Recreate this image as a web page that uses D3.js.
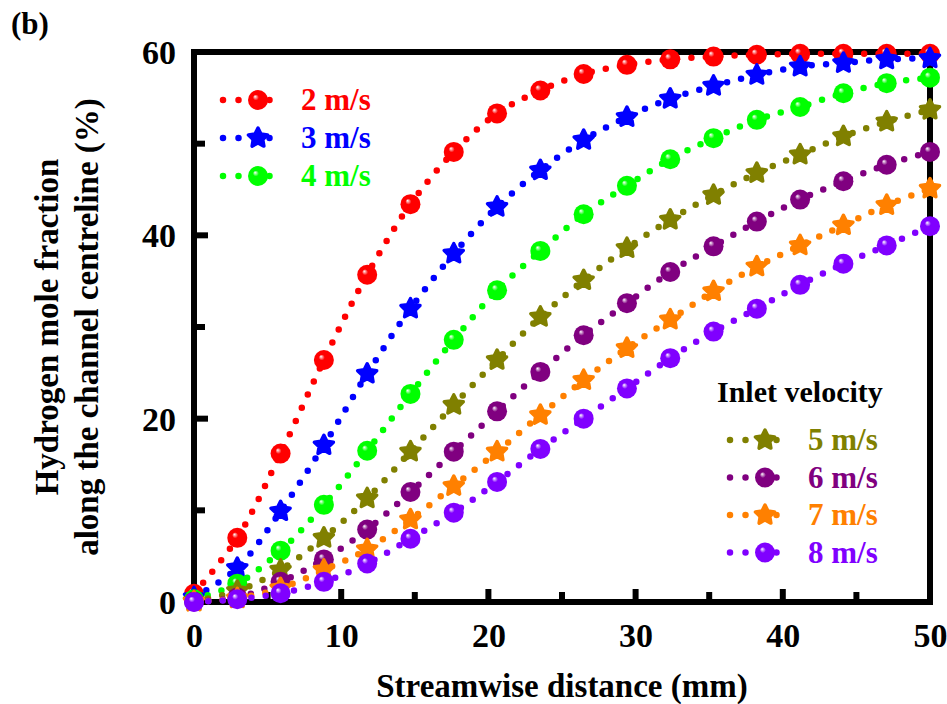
<!DOCTYPE html>
<html>
<head>
<meta charset="utf-8">
<script src="https://cdn.jsdelivr.net/npm/d3@7"></script>
<style>
  body { margin: 0; background: #fff; }
  svg { display: block; font-family: "Liberation Serif", "Times New Roman", serif; font-weight: bold; }
</style>
</head>
<body>
<svg id="chart"></svg>
<script>
// streamwise positions (mm), 18 sample points
const distance = d3.range(18).map(i => i * 50 / 17);

const v2 = [0.9, 7.0, 16.2, 26.4, 35.7, 43.4, 49.1, 53.3, 55.8, 57.6, 58.6, 59.2, 59.5, 59.7, 59.8, 59.8, 59.8, 59.8];
const v3 = [0.5, 3.7, 9.9, 17.1, 24.9, 32.0, 38.0, 43.1, 47.1, 50.4, 52.9, 54.9, 56.3, 57.5, 58.4, 58.8, 59.2, 59.3];
const v4 = [0.3, 2.0, 5.6, 10.6, 16.5, 22.7, 28.6, 34.0, 38.3, 42.3, 45.4, 48.3, 50.6, 52.6, 54.0, 55.5, 56.6, 57.2];
const v5 = [0.1, 1.2, 3.5, 7.0, 11.3, 16.4, 21.5, 26.4, 31.1, 35.1, 38.6, 41.7, 44.4, 46.8, 48.8, 50.8, 52.4, 53.7];
const v6 = [0.05, 0.5, 2.2, 4.65, 7.9, 12.0, 16.4, 20.8, 25.1, 29.1, 32.6, 36.0, 38.8, 41.5, 43.9, 45.9, 47.7, 49.1];
const v7 = [0.03, 0.4, 1.5, 3.5, 5.75, 9.0, 12.65, 16.4, 20.4, 24.2, 27.7, 30.8, 33.9, 36.6, 38.9, 41.1, 43.3, 45.1];
const v8 = [0, 0.3, 0.95, 2.2, 4.2, 6.9, 9.75, 13.1, 16.7, 20.0, 23.3, 26.6, 29.5, 32.0, 34.6, 36.9, 38.9, 41.0];

const seriesNames = ["2 m/s", "3 m/s", "4 m/s", "5 m/s", "6 m/s", "7 m/s", "8 m/s"];
const seriesValues = [v2, v3, v4, v5, v6, v7, v8];
const seriesColors = ["#ff0000", "#0000ff", "#00ff00", "#808000", "#800080", "#ff8000", "#8000ff"];
const seriesShapes = ["sphere", "star", "sphere", "star", "sphere", "star", "sphere"];

const xTicks = [0, 10, 20, 30, 40, 50];
const yTicks = [0, 20, 40, 60];

const width = 947, height = 704;
const margin = {left: 194, right: 17, top: 52, bottom: 102};

const svg = d3.select("#chart")
  .attr("width", width)
  .attr("height", height);

const x = d3.scaleLinear().domain([0, 50]).range([margin.left, width - margin.right]);
const y = d3.scaleLinear().domain([0, 60]).range([height - margin.bottom, margin.top]);

// gradients for the shiny balls
const defs = svg.append("defs");
seriesColors.forEach((c, i) => {
  const g = defs.append("radialGradient")
    .attr("id", "ball" + i)
    .attr("cx", "0.5").attr("cy", "0.5").attr("r", "0.5")
    .attr("fx", "0.35").attr("fy", "0.32");
  g.append("stop").attr("offset", "0%").attr("stop-color", "#ffffff");
  g.append("stop").attr("offset", "30%").attr("stop-color", c);
  g.append("stop").attr("offset", "100%").attr("stop-color", c);
});

// fat rounded star
function starPath(r) {
  const inner = r * 0.5;
  let p = [];
  for (let k = 0; k < 10; k++) {
    const rr = k % 2 === 0 ? r : inner;
    const a = -Math.PI / 2 + k * Math.PI / 5;
    p.push([rr * Math.cos(a), rr * Math.sin(a)]);
  }
  return "M" + p.map(q => q[0].toFixed(2) + "," + q[1].toFixed(2)).join("L") + "Z";
}

function drawMarker(sel, i) {
  if (seriesShapes[i] === "sphere") {
    sel.append("circle")
      .attr("r", 10)
      .attr("fill", "url(#ball" + i + ")");
  } else {
    sel.append("path")
      .attr("d", starPath(10))
      .attr("fill", seriesColors[i])
      .attr("stroke", seriesColors[i])
      .attr("stroke-width", 3.5)
      .attr("stroke-linejoin", "round");
  }
}

// frame
svg.append("rect")
  .attr("x", x(0)).attr("y", y(60))
  .attr("width", x(50) - x(0)).attr("height", y(0) - y(60))
  .attr("fill", "none")
  .attr("stroke", "#000")
  .attr("stroke-width", 6);

// ticks (inward)
const xAxis = d3.axisBottom(x).tickValues(xTicks).tickSize(0).tickFormat(d3.format("d"));
const gx = svg.append("g")
  .attr("transform", `translate(0,${y(0)})`)
  .call(xAxis);
gx.select(".domain").remove();
gx.selectAll("text")
  .attr("dy", null)
  .attr("y", 45)
  .attr("font-size", 34)
  .attr("font-family", "Liberation Serif")
  .attr("font-weight", "bold")
  .attr("fill", "#000");

svg.append("g").selectAll("line")
  .data(d3.range(5, 50, 5))
  .join("line")
  .attr("x1", d => x(d)).attr("x2", d => x(d))
  .attr("y1", y(0))
  .attr("y2", d => y(0) - (d % 10 === 0 ? 13 : 10))
  .attr("stroke", "#000").attr("stroke-width", 6);

const yAxis = d3.axisLeft(y).tickValues(yTicks).tickSize(0).tickFormat(d3.format("d"));
const gy = svg.append("g")
  .attr("transform", `translate(${x(0)},0)`)
  .call(yAxis);
gy.select(".domain").remove();
gy.selectAll("text")
  .attr("x", -18)
  .attr("dy", "0.34em")
  .attr("font-size", 34)
  .attr("font-family", "Liberation Serif")
  .attr("font-weight", "bold")
  .attr("fill", "#000");

svg.append("g").selectAll("line")
  .data(d3.range(10, 60, 10))
  .join("line")
  .attr("y1", d => y(d)).attr("y2", d => y(d))
  .attr("x1", x(0))
  .attr("x2", d => x(0) + (d % 20 === 0 ? 14 : 11))
  .attr("stroke", "#000").attr("stroke-width", 6);

// axis titles
svg.append("text")
  .attr("x", (x(0) + x(50)) / 2)
  .attr("y", 697)
  .attr("text-anchor", "middle")
  .attr("font-size", 33)
  .text("Streamwise distance (mm)");

const yt = svg.append("text")
  .attr("transform", `translate(0,${(y(0) + y(60)) / 2}) rotate(-90)`)
  .attr("text-anchor", "middle")
  .attr("font-size", 33);
yt.append("tspan").attr("x", 0).attr("y", 58).text("Hydrogen mole fraction");
yt.append("tspan").attr("x", 0).attr("y", 98).text("along the channel centreline (%)");

svg.append("text")
  .attr("x", 11).attr("y", 34)
  .attr("font-size", 31)
  .text("(b)");

// data series
const line = d3.line()
  .x(d => x(d[0]))
  .y(d => y(d[1]))
  .curve(d3.curveCatmullRom);

seriesValues.forEach((vals, i) => {
  const pts = distance.map((d, k) => [d, vals[k]]);
  const g = svg.append("g");
  g.append("path")
    .attr("d", line(pts))
    .attr("fill", "none")
    .attr("stroke", seriesColors[i])
    .attr("stroke-width", 6.5)
    .attr("stroke-linecap", "round")
    .attr("stroke-dasharray", "0 14.4");
  g.selectAll("g.mk")
    .data(pts)
    .join("g")
    .attr("class", "mk")
    .attr("transform", d => `translate(${x(d[0])},${y(d[1])})`)
    .each(function() { drawMarker(d3.select(this), i); });
});

// legends
function legendItem(i, lx, ly) {
  const g = svg.append("g").attr("transform", `translate(${lx},${ly})`);
  g.append("line")
    .attr("x1", 0).attr("x2", 62)
    .attr("stroke", seriesColors[i])
    .attr("stroke-width", 6.5)
    .attr("stroke-linecap", "round")
    .attr("stroke-dasharray", "0 15.5");
  const m = g.append("g").attr("transform", "translate(35,0)");
  drawMarker(m, i);
  g.append("text")
    .attr("x", 78).attr("y", 10)
    .attr("font-size", 31)
    .attr("fill", seriesColors[i])
    .text(seriesNames[i]);
}

[0, 1, 2].forEach((i, k) => legendItem(i, 223, 100 + k * 38));

svg.append("text")
  .attr("x", 717).attr("y", 402)
  .attr("font-size", 30)
  .text("Inlet velocity");
[3, 4, 5, 6].forEach((i, k) => legendItem(i, 730, 440 + k * 37.5));
</script>
</body>
</html>
